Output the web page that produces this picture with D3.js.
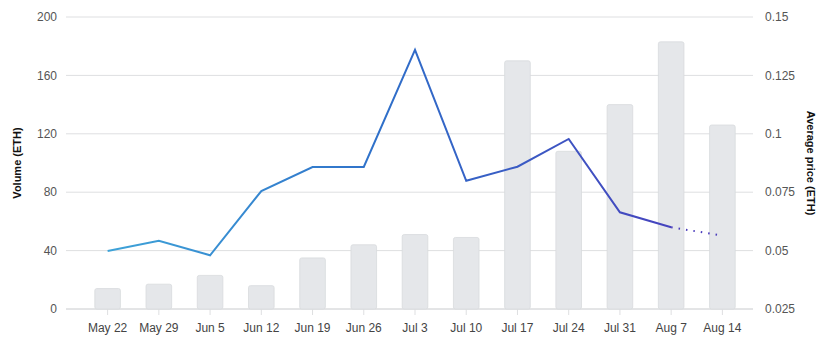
<!DOCTYPE html>
<html><head><meta charset="utf-8">
<script src="https://cdn.jsdelivr.net/npm/d3@7"></script>
<style>
body{margin:0;background:#fff;}
svg{display:block;font-family:"Liberation Sans",Arial,Helvetica,sans-serif;}
</style></head>
<body><svg id="c" width="828" height="345"></svg>
<script>
const categories = ["May 22","May 29","Jun 5","Jun 12","Jun 19","Jun 26","Jul 3","Jul 10","Jul 17","Jul 24","Jul 31","Aug 7","Aug 14"];
const volume = [14, 17, 23, 16, 35, 44, 51, 49, 170, 108, 140, 183, 126];
const avgPrice = [0.0498, 0.0542, 0.048, 0.0755, 0.0858, 0.0858, 0.1359, 0.0799, 0.0859, 0.0978, 0.0664, 0.060, 0.0564];
const volumeTicks = [0, 40, 80, 120, 160, 200];
const priceTicks = [0.025, 0.05, 0.075, 0.1, 0.125, 0.15];

(function(){
const svg = d3.select("#c");
const gridL = 66, gridR = 753, plotTop = 17, plotBottom = 309;

const x = d3.scaleBand().domain(categories).range([82, 748]).paddingInner(0.5).paddingOuter(0.25);
const yV = d3.scaleLinear().domain([0, 200]).range([plotBottom, plotTop]);
const yP = d3.scaleLinear().domain([0.025, 0.15]).range([plotBottom, plotTop]);

// gridlines
svg.append("g").selectAll("line").data(volumeTicks).join("line")
  .attr("x1", gridL).attr("x2", gridR)
  .attr("y1", d => yV(d)).attr("y2", d => yV(d))
  .attr("stroke", d => d === 0 ? "#c8cacd" : "#dedfe1").attr("stroke-width", 1);

// x ticks
svg.append("g").selectAll("line").data(categories).join("line")
  .attr("x1", d => x(d) + x.bandwidth()/2).attr("x2", d => x(d) + x.bandwidth()/2)
  .attr("y1", plotBottom).attr("y2", plotBottom + 6)
  .attr("stroke", "#dedfe1");

// bars
svg.append("g").selectAll("rect").data(categories).join("rect")
  .attr("x", d => x(d)).attr("width", x.bandwidth())
  .attr("y", (d, i) => yV(volume[i]))
  .attr("height", (d, i) => yV(0) - yV(volume[i]))
  .attr("rx", 2).attr("ry", 2)
  .attr("fill", "#e5e7ea").attr("stroke", "#d8dadd").attr("stroke-width", 0.8);

// gradient
const defs = svg.append("defs");
const grad = defs.append("linearGradient").attr("id", "lg")
  .attr("gradientUnits", "userSpaceOnUse")
  .attr("x1", x(categories[0]) + x.bandwidth()/2).attr("x2", x(categories[12]) + x.bandwidth()/2)
  .attr("y1", 0).attr("y2", 0);
grad.append("stop").attr("offset", "0%").attr("stop-color", "#3ea3d8");
grad.append("stop").attr("offset", "45%").attr("stop-color", "#2f6fc9");
grad.append("stop").attr("offset", "100%").attr("stop-color", "#4a3cbc");

const pts = categories.map((c, i) => [x(c) + x.bandwidth()/2, yP(avgPrice[i])]);
const line = d3.line();
svg.append("path").attr("d", line(pts.slice(0, 12)))
  .attr("fill", "none").attr("stroke", "url(#lg)").attr("stroke-width", 2)
  .attr("stroke-linejoin", "miter");
svg.append("path").attr("d", line(pts.slice(11)))
  .attr("fill", "none").attr("stroke", "#4a3cbc").attr("stroke-width", 2)
  .attr("stroke-dasharray", "1.5 6").attr("stroke-linecap", "butt");

// left tick labels
svg.append("g").selectAll("text").data(volumeTicks).join("text")
  .attr("x", 57).attr("y", d => yV(d)).attr("dy", "0.35em")
  .attr("text-anchor", "end").attr("font-size", 12).attr("fill", "#555")
  .text(d => d);

// right tick labels
svg.append("g").selectAll("text").data(priceTicks).join("text")
  .attr("x", 765).attr("y", d => yP(d)).attr("dy", "0.35em")
  .attr("text-anchor", "start").attr("font-size", 12).attr("fill", "#555")
  .text(d => d);

// x labels
svg.append("g").selectAll("text").data(categories).join("text")
  .attr("x", d => x(d) + x.bandwidth()/2).attr("y", 328).attr("dy", "0.35em")
  .attr("text-anchor", "middle").attr("font-size", 12).attr("fill", "#444")
  .text(d => d);

// axis titles
svg.append("text").attr("transform", `translate(21,${(plotTop+plotBottom)/2}) rotate(-90)`)
  .attr("text-anchor", "middle").attr("font-size", 11).attr("font-weight", "bold").attr("fill", "#111")
  .text("Volume (ETH)");
svg.append("text").attr("transform", `translate(807,${(plotTop+plotBottom)/2}) rotate(90)`)
  .attr("text-anchor", "middle").attr("font-size", 11).attr("font-weight", "bold").attr("fill", "#111")
  .text("Average price (ETH)");
})();
</script></body></html>
